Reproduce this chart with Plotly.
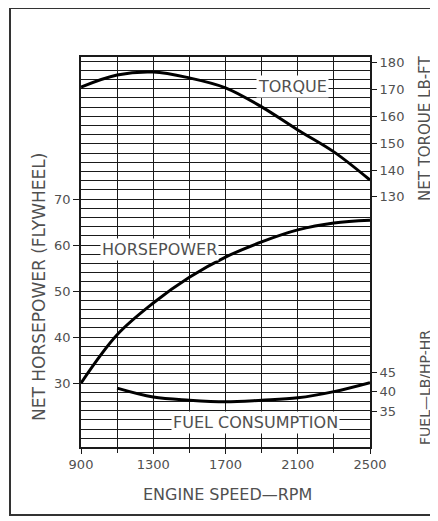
import plotly.graph_objects as go

rpm = [900, 1100, 1300, 1500, 1700, 1900, 2100, 2300, 2500]
torque = [171, 175.5, 176.6, 174.4, 170.7, 163.6, 155, 146.8, 136.3]
horsepower = [30, 40.5, 47.4, 53, 57.4, 60.7, 63.3, 64.8, 65.4]
fuel_rpm = [1100, 1300, 1500, 1700, 1900, 2100, 2300, 2500]
fuel = [40.9, 38.6, 37.8, 37.4, 37.8, 38.4, 40.0, 42.3]

x_ticks = [900, 1300, 1700, 2100, 2500]
hp_ticks = [30, 40, 50, 60, 70]
torque_ticks = [130, 140, 150, 160, 170, 180]
fuel_ticks = [35, 40, 45]

FONT = "DejaVu Sans, Liberation Sans, sans-serif"
TXT = "#505050"
LINE = "#1a1a1a"

OFF = 8  # page body margin
W, H = 438 - OFF, 521 - OFF
L, R, T, B = 81 - OFF, 370 - OFF, 57 - OFF, 447 - OFF
PW, PH = R - L, B - T


def px(xp):
    return (xp - OFF - L) / PW


def py(yp):
    return (B - (yp - OFF)) / PH


fig = go.Figure()
fig.add_trace(go.Scatter(x=rpm, y=horsepower, mode="lines", line=dict(color="black", width=3, shape="spline"), yaxis="y", showlegend=False))
fig.add_trace(go.Scatter(x=rpm, y=torque, mode="lines", line=dict(color="black", width=3, shape="spline"), yaxis="y2", showlegend=False))
fig.add_trace(go.Scatter(x=fuel_rpm, y=fuel, mode="lines", line=dict(color="black", width=3, shape="spline"), yaxis="y3", showlegend=False))

tf = dict(size=13, color=TXT)
fig.update_layout(
    width=W, height=H,
    margin=dict(l=L, r=W - R, t=T, b=H - B),
    paper_bgcolor="white", plot_bgcolor="white",
    font=dict(family=FONT, size=13, color=TXT),
    xaxis=dict(range=[900, 2500], tickvals=x_ticks, showgrid=True, gridcolor=LINE, gridwidth=1.3,
               minor=dict(dtick=200, tick0=900, showgrid=True, gridcolor=LINE, gridwidth=1.3, ticks="outside", ticklen=4, tickcolor=LINE),
               ticks="outside", ticklen=5, tickcolor=LINE, showline=True, linecolor=LINE, linewidth=1.5, mirror=True,
               zeroline=False, tickfont=tf),
    yaxis=dict(range=[16.1, 100.9], tickvals=hp_ticks, showgrid=True, gridcolor=LINE, gridwidth=1,
               minor=dict(dtick=2, tick0=0, showgrid=True, gridcolor=LINE, gridwidth=1),
               ticks="outside", ticklen=6, tickcolor=LINE, showline=True, linecolor=LINE, linewidth=1.5, mirror=True,
               zeroline=False, tickfont=tf),
    yaxis2=dict(range=[36.7, 182.2], tickvals=torque_ticks, overlaying="y", side="right", anchor="x",
                showgrid=False, zeroline=False, ticks="outside", ticklen=6, tickcolor=LINE, tickfont=tf),
    yaxis3=dict(range=[25.8, 125.8], tickvals=fuel_ticks, overlaying="y", side="right", anchor="x",
                showgrid=False, zeroline=False, ticks="outside", ticklen=6, tickcolor=LINE, tickfont=tf),
)

lf = dict(size=16, color=TXT)
common = dict(xref="paper", yref="paper", showarrow=False, xanchor="center", yanchor="middle")
ann = [
    dict(text="TORQUE", x=px(292), y=py(87), bgcolor="white", font=lf, borderpad=1, **common),
    dict(text="HORSEPOWER", x=px(159), y=py(249), bgcolor="white", font=lf, borderpad=1, **common),
    dict(text="FUEL CONSUMPTION", x=px(255), y=py(422), bgcolor="white", font=lf, borderpad=1, **common),
    dict(text="ENGINE SPEED—RPM", x=px(227), y=py(494), font=dict(size=16, color=TXT), **common),
    dict(text="NET HORSEPOWER (FLYWHEEL)", x=px(39), y=py(287), textangle=-90,
         font=dict(size=17, color=TXT), **common),
    dict(text="NET TORQUE LB-FT", x=px(425), y=py(129), textangle=-90,
         font=dict(size=15, color=TXT), **common),
    dict(text="FUEL—LB/HP-HR", x=px(425), y=py(388), textangle=-90,
         font=dict(size=14, color=TXT), **common),
]
fig.update_layout(annotations=ann)

fig.add_shape(type="rect", xref="paper", yref="paper", x0=px(10), x1=px(437),
              y0=py(515), y1=py(8), line=dict(color="#333", width=2), layer="below")

fig.write_html("out.html")
